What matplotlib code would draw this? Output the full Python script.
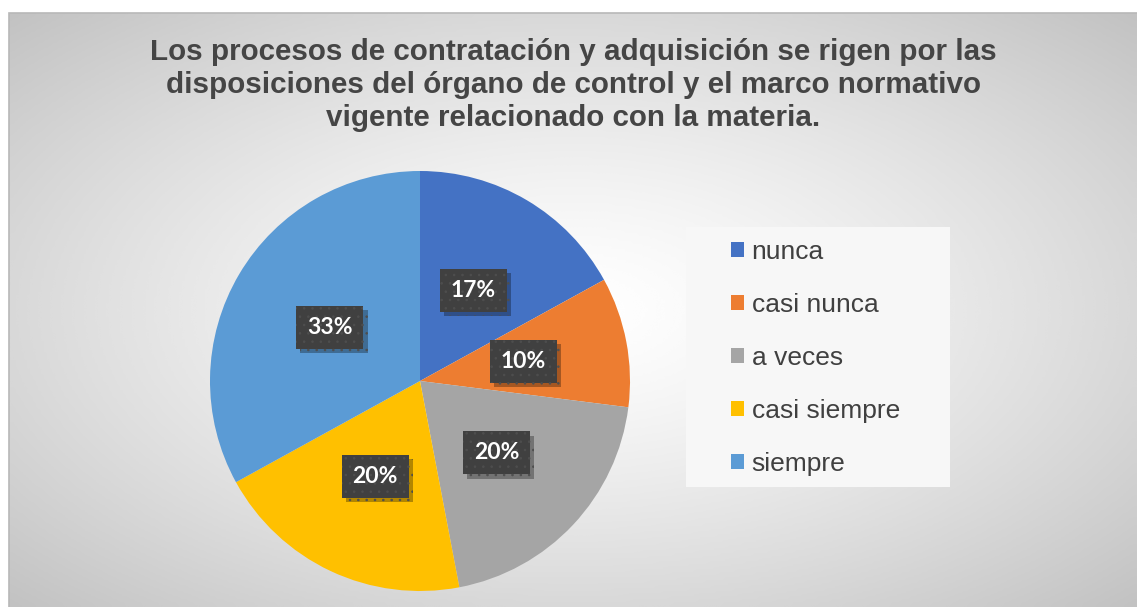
import matplotlib as mpl
import matplotlib.pyplot as plt
import matplotlib.patheffects as pe
from matplotlib.patches import Rectangle
import numpy as np

mpl.rcParams.update({
    "font.family": ["Liberation Sans", "DejaVu Sans"],
    "hatch.linewidth": 0.6,
})

categories = ["nunca", "casi nunca", "a veces", "casi siempre", "siempre"]
values = [17, 10, 20, 20, 33]
colors = ["#4472C4", "#ED7D31", "#A5A5A5", "#FFC000", "#5B9BD5"]
title = ("Los procesos de contratación y adquisición se rigen por las\n"
         "disposiciones del órgano de control y el marco normativo\n"
         "vigente relacionado con la materia.")

W, H = 1137, 607
fig = plt.figure(figsize=(W / 100, H / 100), dpi=100)
fig.patch.set_facecolor("white")

# chart area with radial gray gradient
bg = fig.add_axes([9 / W, 0, (W - 9) / W, (H - 13) / H], zorder=-2)
nx, ny = 400, 220
gx, gy = np.meshgrid(np.linspace(0, 1, nx), np.linspace(0, 1, ny))
d = np.sqrt(((gx - 0.5) / 0.5) ** 2 + ((gy - 0.5) / 0.5) ** 2) / np.sqrt(2)
shade = 1.0 - 0.24 * d ** 1.3
bg.imshow(shade, cmap="gray", vmin=0, vmax=1, aspect="auto",
          extent=(0, 1, 0, 1), interpolation="bicubic")
bg.set_xlim(0, 1)
bg.set_ylim(0, 1)
bg.axis("off")
fig.add_artist(Rectangle((9 / W, -0.01), (W - 9) / W + 0.01, (H - 13) / H + 0.01,
                         transform=fig.transFigure, fill=False,
                         edgecolor="#b8b8b8", linewidth=1.2, zorder=-1))

# pie
cx, cy, r = 420, 381, 210
ax = fig.add_axes([(cx - r) / W, (H - cy - r) / H, 2 * r / W, 2 * r / H])
wedges, _, autotexts = ax.pie(values, colors=colors, startangle=90,
                              counterclock=False, radius=1,
                              autopct="%1.0f%%", pctdistance=0.5)
ax.set_xlim(-1, 1)
ax.set_ylim(-1, 1)
ax.set_aspect("equal")
ax.axis("off")

for t in autotexts:
    t.set_fontfamily(["Lato", "DejaVu Sans"])
    t.set_fontweight("bold")
    t.set_fontsize(16.5)
    t.set_color("white")
    t.set_bbox(dict(boxstyle="square,pad=0.48", facecolor="#404040",
                    edgecolor="#4e4e4e", linewidth=0, hatch=".."))
    t.get_bbox_patch().set_path_effects([
        pe.SimplePatchShadow(offset=(3, -3), shadow_rgbFace="black", alpha=0.3),
        pe.Normal()])
    t.set_zorder(5)

# title
fig.text(573 / W, 1 - 38 / H, title, ha="center", va="top", fontsize=21.3,
         fontweight="bold", color="#454545", linespacing=1.22)

# legend
fig.add_artist(Rectangle((686 / W, 1 - 487 / H), 264 / W, 260 / H,
                         transform=fig.transFigure, facecolor="#f7f7f7",
                         edgecolor="none", zorder=1))
leg = fig.legend(wedges, categories, loc="center left",
                 bbox_to_anchor=(731 / W, 1 - 358 / H), frameon=False,
                 fontsize=19, handlelength=0.5, handleheight=0.5,
                 handletextpad=0.28, labelspacing=1.1, borderpad=0,
                 borderaxespad=0)
leg.set_zorder(2)
for txt in leg.get_texts():
    txt.set_color("#404040")

fig.savefig("out.png", dpi=100)
